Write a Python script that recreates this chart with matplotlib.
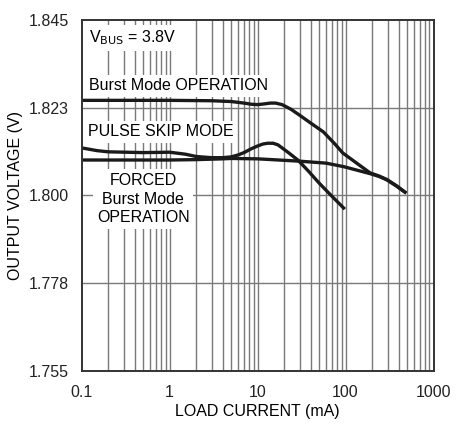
import matplotlib
matplotlib.use("Agg")
import matplotlib.pyplot as plt
import numpy as np
from matplotlib.ticker import FixedLocator, NullFormatter

plt.rcParams['font.family'] = ['Liberation Sans Narrow', 'Liberation Sans', 'DejaVu Sans']

burst_x = [0.1, 0.3, 1, 3, 5, 7, 8.5, 10, 12, 14, 16, 19, 24, 30, 40, 56, 75, 93, 130, 190, 240, 295, 380, 490]
burst_y = [1.8244, 1.8244, 1.8244, 1.8243, 1.8241, 1.8237, 1.8234, 1.8233, 1.8235, 1.8237, 1.8237, 1.8233, 1.8221, 1.8206, 1.8186, 1.8163, 1.8133, 1.8109, 1.8085, 1.8058, 1.8050, 1.8041, 1.8025, 1.8006]

pulse_x = [0.1, 0.15, 0.2, 0.5, 1, 1.5, 2, 3, 4, 5, 6, 7, 8.5, 10, 11.5, 13, 15, 17, 19, 23, 29, 38, 50, 70, 98]
pulse_y = [1.8122, 1.8115, 1.8112, 1.8110, 1.8111, 1.8106, 1.8100, 1.8097, 1.8097, 1.8099, 1.8104, 1.8110, 1.8120, 1.8127, 1.8132, 1.8134, 1.8134, 1.8130, 1.8122, 1.8108, 1.8090, 1.8062, 1.8032, 1.7998, 1.7965]

forced_x = [0.1, 0.5, 1, 2, 4, 5, 10, 30, 60, 95, 140, 190, 240, 295, 380, 490]
forced_y = [1.8091, 1.8091, 1.8091, 1.8092, 1.8094, 1.8095, 1.8094, 1.8088, 1.8083, 1.8074, 1.8064, 1.8056, 1.8049, 1.8040, 1.8024, 1.8006]

yticks = [1.755, 1.7775, 1.800, 1.8225, 1.845]
ytick_labels = ['1.755', '1.778', '1.800', '1.823', '1.845']
xticks = [0.1, 1, 10, 100, 1000]
xtick_labels = ['0.1', '1', '10', '100', '1000']

fig = plt.figure(figsize=(4.68, 4.25), dpi=100)
ax = fig.add_axes([0.1746, 0.1271, 0.7517, 0.8258])
ax.set_xscale('log')
ax.set_xlim(0.1, 1000)
ax.set_ylim(1.755, 1.845)

gridc = '#7a7a7a'
minors = [m * 10.0**e for e in range(-1, 3) for m in range(2, 10)]
for xv in minors + xticks[1:-1]:
    ax.axvline(xv, color=gridc, lw=1.0, zorder=1)
for yv in yticks[1:-1]:
    ax.axhline(yv, color=gridc, lw=1.0, zorder=1)

ax.xaxis.set_major_locator(FixedLocator(xticks))
ax.set_xticklabels(xtick_labels)
ax.xaxis.set_minor_locator(FixedLocator(minors))
ax.xaxis.set_minor_formatter(NullFormatter())
ax.set_yticks(yticks)
ax.set_yticklabels(ytick_labels)
ax.tick_params(axis='both', which='both', length=0, labelsize=11.5, colors='#222222')
ax.tick_params(axis='y', pad=9)
ax.tick_params(axis='x', pad=10)

for s in ax.spines.values():
    s.set_linewidth(1.4)
    s.set_color('#333333')
    s.set_zorder(5)

lc = '#1a1a1a'
for xs, ys in ((burst_x, burst_y), (pulse_x, pulse_y), (forced_x, forced_y)):
    ax.plot(xs, ys, color=lc, lw=2.4, zorder=4, solid_capstyle='butt', solid_joinstyle='round')

bb = dict(facecolor='white', edgecolor='none', pad=2.5)
fs = 11.5
ax.text(0.121, 1.8404, r'V$_{\mathrm{BUS}}$ = 3.8V', fontsize=fs, va='center', ha='left', bbox=bb, zorder=3)
ax.text(0.121, 1.8281, 'Burst Mode OPERATION', fontsize=fs, va='center', ha='left', bbox=bb, zorder=3)
ax.text(0.118, 1.8163, 'PULSE SKIP MODE', fontsize=fs, va='center', ha='left', bbox=bb, zorder=3)
ax.text(0.50, 1.7991, 'FORCED\nBurst Mode\nOPERATION', fontsize=fs, va='center', ha='center',
        multialignment='center', linespacing=1.3, bbox=bb, zorder=3)

ax.set_xlabel('LOAD CURRENT (mA)', fontsize=11.5, labelpad=3)
ax.set_ylabel('OUTPUT VOLTAGE (V)', fontsize=11.5, labelpad=4)

fig.savefig('out.png', dpi=100)
